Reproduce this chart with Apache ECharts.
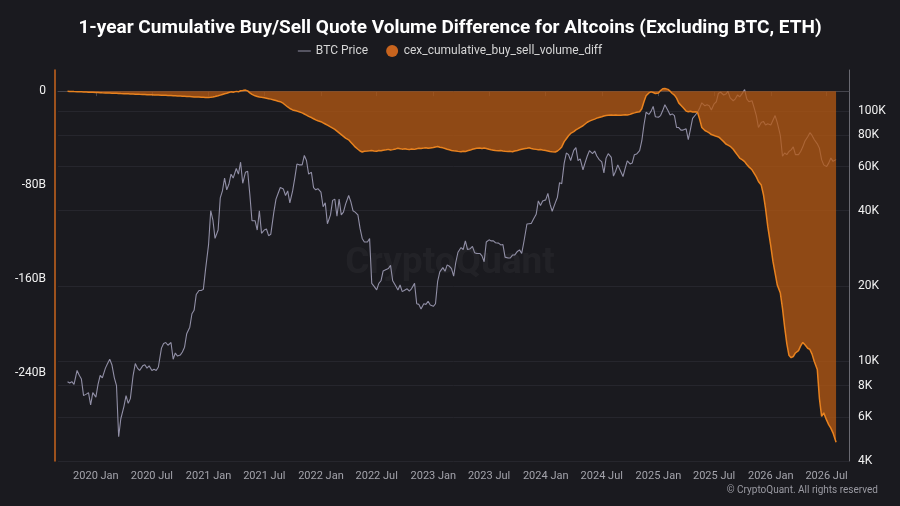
<!DOCTYPE html>
<html>
<head>
<meta charset="utf-8">
<script src="https://cdn.jsdelivr.net/npm/echarts@6/dist/echarts.min.js"></script>
<style>
  html, body { margin: 0; padding: 0; background: #1a1a1f; }
  #chart { width: 900px; height: 506px; }
</style>
</head>
<body>
<div id="chart"></div>
<script>
// four readings per month (days 1, 8, 15, 22); BTC in thousands USD, diff in billions USD
const weekDays = [1, 8, 15, 22];

const btc2019 = [8.3, 8.2, 8.3, 8.1, 9.2, 8.8, 8.5, 7.3, 7.4, 7.5, 6.7, 7.5];
const btc2020 = [
  7.2, 8.1, 8.8, 8.6, 9.4, 9.8, 10.2, 9.7, 8.6, 8.0, 5.0, 5.9,
  6.6, 7.3, 6.8, 7.1, 8.8, 9.8, 9.4, 9.2, 9.6, 9.7, 9.4, 9.6,
  9.2, 9.3, 9.2, 9.5, 11.3, 11.8, 11.9, 11.6, 11.9, 10.2, 10.8, 10.5,
  10.6, 10.9, 11.4, 12.9, 13.7, 15.5, 16.0, 18.5, 19.2, 19.2, 19.4, 23.2
];
const btc2021 = [
  29.3, 40.0, 36.8, 31.0, 33.5, 45.0, 48.0, 54.0, 48.5, 51.0, 56.0, 54.0,
  59.0, 56.0, 62.5, 51.5, 57.0, 57.5, 46.5, 36.5, 36.5, 33.5, 40.0, 32.5,
  33.5, 33.8, 31.8, 32.2, 39.5, 44.5, 47.0, 49.5, 48.8, 46.0, 48.0, 43.0,
  48.0, 54.0, 61.5, 61.0, 61.0, 66.5, 63.5, 56.0, 57.0, 49.5, 48.5, 49.0
];
const btc2022 = [
  47.5, 41.5, 43.0, 35.5, 38.5, 44.0, 44.5, 38.0, 44.5, 38.5, 39.5, 42.5,
  46.0, 43.5, 40.0, 39.5, 38.5, 34.0, 31.0, 30.0, 30.0, 31.0, 20.5, 20.0,
  19.3, 20.5, 21.0, 23.0, 23.3, 23.5, 24.2, 21.0, 20.0, 19.3, 20.2, 19.0,
  19.3, 19.5, 19.1, 19.5, 20.5, 17.0, 16.9, 16.2, 17.0, 16.9, 17.4, 16.8
];
const btc2023 = [
  16.6, 17.0, 20.9, 22.8, 23.7, 22.9, 24.3, 24.0, 23.5, 21.9, 24.9, 27.3,
  28.5, 28.0, 30.3, 28.0, 28.2, 28.8, 27.2, 27.0, 27.0, 26.4, 25.0, 30.0,
  30.6, 30.3, 30.3, 29.8, 29.7, 29.2, 29.3, 26.1, 25.9, 25.9, 26.6, 26.6,
  27.5, 27.9, 27.0, 30.0, 35.4, 35.5, 35.6, 37.0, 38.7, 43.8, 42.0, 43.7
];
const btc2024 = [
  44.2, 46.9, 42.5, 39.8, 43.0, 45.3, 51.8, 51.3, 62.0, 68.0, 67.0, 63.5,
  69.7, 71.5, 63.4, 64.5, 58.3, 62.3, 66.2, 69.5, 67.7, 69.3, 66.2, 64.2,
  62.7, 56.7, 64.9, 67.6, 65.3, 55.0, 57.5, 61.0, 57.3, 54.8, 59.1, 63.3,
  61.5, 62.1, 67.0, 67.4, 69.5, 76.0, 88.0, 99.0, 97.0, 99.8, 104.5, 95.0
];
const btc2025 = [
  94.5, 96.0, 100.5, 106.0, 100.5, 96.5, 97.5, 96.0, 86.0, 86.0, 84.0, 84.0,
  85.0, 77.0, 84.5, 93.5, 96.5, 99.0, 103.0, 108.0, 105, 106, 105, 101,
  107, 109, 118, 119, 116, 117, 120, 113, 110, 112, 116, 114,
  118, 122, 112, 109, 110, 103, 96, 86, 90, 91, 88, 89
];
const btc2026 = [
  88, 92, 96, 90, 80, 66, 68, 67, 69, 70, 72, 67,
  67, 69, 72, 76, 79, 82, 80, 77, 74, 71, 64, 61,
  60, 62, 65, 63, 64
];

const diff2019 = [-0.2, -0.3, -0.3, -0.4, -0.5, -0.6, -0.6, -0.7, -0.8, -0.9, -1.0, -1.0];
const diff2020 = [
  -1.1, -1.2, -1.3, -1.4, -1.5, -1.5, -1.6, -1.7, -1.8, -1.9, -2.0, -2.1,
  -2.2, -2.2, -2.3, -2.4, -2.5, -2.6, -2.6, -2.7, -2.8, -2.9, -3.0, -3.0,
  -3.1, -3.2, -3.3, -3.3, -3.4, -3.5, -3.6, -3.7, -3.8, -3.9, -4.0, -4.1,
  -4.2, -4.3, -4.4, -4.5, -4.6, -4.7, -4.9, -5.0, -5.1, -5.2, -5.3, -5.4
];
const diff2021 = [
  -5.4, -5.3, -5.0, -4.6, -4.0, -3.4, -2.8, -2.2, -1.8, -1.2, -0.6, -0.9,
  -0.2, -0.6, 0.3, 0.5, 0.9, 0.2, -1.5, -2.8, -4.0, -4.5, -5.0, -5.3,
  -5.6, -6.0, -6.4, -6.8, -7.5, -8.0, -8.6, -9.0, -10.5, -12.0, -13.5, -14.8,
  -16.0, -16.5, -17.0, -17.6, -18.5, -19.5, -20.5, -21.5, -22.5, -23.5, -24.5, -25.2
];
const diff2022 = [
  -26.0, -27.0, -28.0, -29.0, -30.5, -31.5, -32.5, -34.0, -35.5, -37.0, -38.5, -40.0,
  -41.5, -43.5, -45.5, -47.5, -49.5, -51.0, -51.8, -51.2, -51.0, -50.8, -50.5, -50.9,
  -51.2, -50.6, -50.8, -50.3, -50.0, -49.6, -50.2, -49.8, -49.2, -48.6, -49.0, -49.4,
  -49.0, -49.5, -49.8, -49.3, -49.6, -49.0, -48.6, -48.8, -48.5, -48.2, -48.7, -48.4
];
const diff2023 = [
  -48.0, -47.5, -47.2, -47.8, -48.3, -48.9, -49.5, -50.0, -50.5, -50.8, -51.0, -51.3,
  -51.6, -51.2, -51.5, -50.8, -50.2, -49.5, -49.0, -48.6, -48.5, -48.9, -48.4, -48.8,
  -49.5, -50.0, -50.3, -50.6, -50.8, -50.5, -50.9, -51.2, -51.5, -51.3, -51.6, -51.0,
  -50.5, -50.0, -49.5, -49.0, -48.6, -48.3, -48.8, -49.2, -49.6, -50.0, -49.7, -50.2
];
const diff2024 = [
  -50.6, -51.0, -51.4, -51.6, -51.8, -51.0, -49.5, -47.5, -43.0, -40.5, -38.0, -36.0,
  -34.5, -33.0, -32.0, -30.8, -29.5, -28.0, -26.5, -25.5, -24.5, -23.8, -23.0, -22.4,
  -21.8, -21.2, -20.8, -20.5, -20.4, -20.6, -20.3, -20.5, -20.6, -20.4, -20.2, -20.4,
  -19.8, -19.0, -18.5, -18.0, -17.6, -15.0, -9.0, -4.0, -1.5, -0.6, -1.2, -2.0
];
const diff2025 = [
  -1.5, 0.5, 2.0, 2.3, 1.5, 0.0, -2.0, -3.4, -6.0, -10.0, -12.0, -14.0,
  -17.0, -17.6, -17.2, -17.8, -17.6, -18.0, -24.0, -31.0, -33.5, -34.5, -35.5, -37.0,
  -37.8, -38.5, -39.0, -40.5, -43.0, -45.0, -46.0, -47.0, -49.5, -52.0, -54.5, -57.0,
  -58.5, -60.0, -62.5, -64.5, -67.0, -70.0, -73.0, -77.0, -80.0, -88.0, -100, -115
];
const diff2026 = [
  -132, -145, -155, -165, -172, -185, -201, -215, -225, -227, -226, -223,
  -221, -217, -214, -216, -219, -220, -224, -230, -237, -262, -277, -274,
  -280, -284, -287, -291, -299
];

const xTickDates = [
  '2020-01', '2020-07', '2021-01', '2021-07', '2022-01', '2022-07', '2023-01',
  '2023-07', '2024-01', '2024-07', '2025-01', '2025-07', '2026-01', '2026-07'
];
const priceTicks = [4, 6, 8, 10, 20, 40, 60, 80, 100];
const diffTicks = [0, -80, -160, -240];
const monthNames = ['Jan', 'Feb', 'Mar', 'Apr', 'May', 'Jun', 'Jul', 'Aug', 'Sep', 'Oct', 'Nov', 'Dec'];

// pair each reading with its date
function pairYear(year, firstMonth, values) {
  return values.map(function (v, i) {
    var month = firstMonth + Math.floor(i / 4);
    var d = new Date(year, month - 1, weekDays[i % 4]);
    return [d.getTime(), v];
  });
}
const btcData = [].concat(
  pairYear(2019, 10, btc2019), pairYear(2020, 1, btc2020), pairYear(2021, 1, btc2021),
  pairYear(2022, 1, btc2022), pairYear(2023, 1, btc2023), pairYear(2024, 1, btc2024),
  pairYear(2025, 1, btc2025), pairYear(2026, 1, btc2026)
);
const diffData = [].concat(
  pairYear(2019, 10, diff2019), pairYear(2020, 1, diff2020), pairYear(2021, 1, diff2021),
  pairYear(2022, 1, diff2022), pairYear(2023, 1, diff2023), pairYear(2024, 1, diff2024),
  pairYear(2025, 1, diff2025), pairYear(2026, 1, diff2026)
);
const xTicks = xTickDates.map(function (s) {
  var p = s.split('-');
  return new Date(+p[0], +p[1] - 1, 1).getTime();
});

// thin dash for the BTC legend entry (corner dots keep the icon box 13x12)
const dashIcon = 'path://M0,0L0.01,0M0,5.4L13,5.4L13,6.6L0,6.6ZM13,12L12.99,12';

var myChart = echarts.init(document.getElementById('chart'));
myChart.setOption({
  backgroundColor: '#1a1a1f',
  animation: false,
  textStyle: { fontFamily: 'Roboto, sans-serif' },
  title: {
    text: '1-year Cumulative Buy/Sell Quote Volume Difference for Altcoins (Excluding BTC, ETH)',
    left: 'center',
    top: 14,
    textStyle: { color: '#ffffff', fontSize: 19, fontWeight: 'bold', fontFamily: 'Roboto' }
  },
  legend: {
    top: 40,
    left: 'center',
    itemWidth: 13,
    itemHeight: 12,
    itemGap: 18,
    textStyle: { color: '#d6d6d6', fontSize: 12 },
    data: [
      { name: 'BTC Price', icon: dashIcon, itemStyle: { color: '#8f8da3', borderWidth: 0 } },
      { name: 'cex_cumulative_buy_sell_volume_diff', icon: 'circle', itemStyle: { borderWidth: 0 } }
    ]
  },
  grid: { left: 58, right: 51, top: 70, bottom: 45 },
  graphic: [
    {
      type: 'text', left: 'center', top: 245, z: 0,
      style: { text: 'CryptoQuant', fill: 'rgba(255,255,255,0.04)', fontSize: 37, fontWeight: 'bold', fontFamily: 'Roboto' }
    },
    {
      type: 'text', right: 22, top: 485,
      style: { text: '\u00a9 CryptoQuant. All rights reserved', fill: '#9a9aa2', fontSize: 10, fontFamily: 'Roboto' }
    }
  ],
  xAxis: {
    // timestamps on a plain value axis so the Jan/Jul ticks can be placed exactly
    type: 'value',
    min: new Date(2019, 7, 31).getTime(),
    max: new Date(2026, 8, 12).getTime(),
    axisLine: { show: true, lineStyle: { color: '#45454d' } },
    axisTick: { show: true, customValues: xTicks, lineStyle: { color: '#45454d' } },
    splitLine: { show: false },
    axisLabel: {
      customValues: xTicks,
      color: '#a3a3ab',
      fontSize: 11,
      margin: 10,
      formatter: function (v) {
        var d = new Date(v);
        return d.getFullYear() + ' ' + monthNames[d.getMonth()];
      }
    }
  },
  yAxis: [
    {
      type: 'value',
      position: 'left',
      offset: 3,
      min: -315,
      max: 18,
      axisLine: { show: true, lineStyle: { color: '#c8641e', width: 1.5 } },
      axisTick: { show: false },
      splitLine: { show: false },
      axisLabel: {
        customValues: diffTicks,
        color: '#f0f0f0',
        fontSize: 12,
        margin: 9,
        formatter: function (v) { return v === 0 ? '0' : v + 'B'; }
      }
    },
    {
      type: 'log',
      position: 'right',
      min: 4,
      max: 146,
      axisLine: { show: true, lineStyle: { color: '#6a6a72' } },
      axisTick: { show: false, customValues: priceTicks },
      splitLine: { show: true, lineStyle: { color: '#26262d', width: 1 } },
      axisLabel: {
        customValues: priceTicks,
        color: '#f0f0f0',
        fontSize: 12,
        margin: 9,
        formatter: function (v) { return v + 'K'; }
      }
    }
  ],
  series: [
    {
      name: 'BTC Price',
      type: 'line',
      yAxisIndex: 1,
      data: btcData,
      symbol: 'none',
      color: '#8f8da3',
      lineStyle: { color: '#918fa6', width: 1.1 },
      z: 2
    },
    {
      name: 'cex_cumulative_buy_sell_volume_diff',
      type: 'line',
      yAxisIndex: 0,
      data: diffData,
      symbol: 'none',
      color: '#c8641e',
      lineStyle: { color: '#e8821f', width: 1.5 },
      areaStyle: { color: 'rgba(180,88,18,0.76)', opacity: 1, origin: 0 },
      z: 3
    }
  ]
});
</script>
</body>
</html>
